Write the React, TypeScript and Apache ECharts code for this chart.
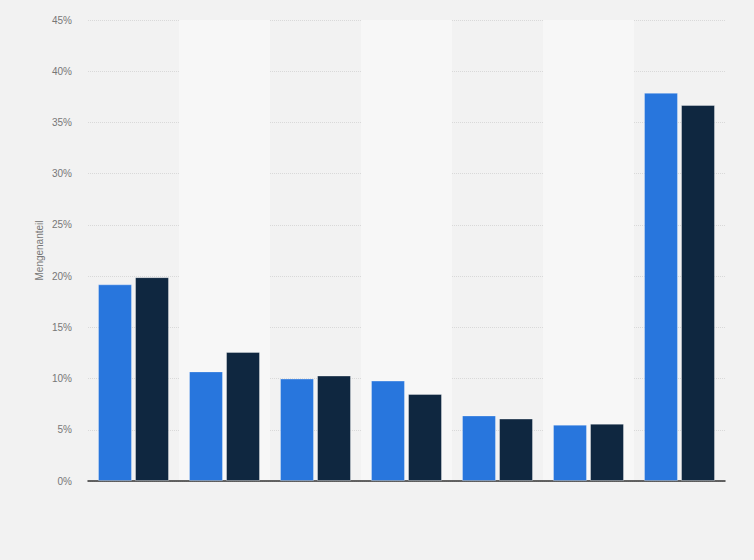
import React, { useEffect, useRef } from "react";
import * as echarts from "echarts";

const categories = ["Kategorie 1", "Kategorie 2", "Kategorie 3", "Kategorie 4", "Kategorie 5", "Kategorie 6", "Kategorie 7"];
const seriesNames = ["Serie 1", "Serie 2"];
const seriesA = [19.2, 10.7, 10.0, 9.8, 6.4, 5.5, 37.9];
const seriesB = [19.9, 12.6, 10.3, 8.5, 6.1, 5.6, 36.7];
const yTicks = { min: 0, max: 45, interval: 5 };

export default function App() {
  const ref = useRef<HTMLDivElement>(null);
  useEffect(() => {
    if (!ref.current) return;
    const chart = echarts.init(ref.current, undefined, { renderer: "svg" });
    const font = "'Liberation Sans', Arial, sans-serif";
    chart.setOption({
      animation: false,
      backgroundColor: "#f2f2f2",
      textStyle: { fontFamily: font },
      grid: { left: 88, right: 29, top: 20, bottom: 79 },
      xAxis: {
        type: "category",
        data: categories,
        axisLine: { show: true, lineStyle: { color: "#333", width: 1.5 } },
        axisTick: { show: false },
        axisLabel: { show: false },
        splitArea: { show: true, areaStyle: { color: ["rgba(0,0,0,0)", "#f7f7f7"] } },
      },
      yAxis: {
        type: "value",
        min: yTicks.min,
        max: yTicks.max,
        interval: yTicks.interval,
        name: "Mengenanteil",
        nameLocation: "middle",
        nameGap: 44,
        nameMoveOverlap: false,
        nameTextStyle: { color: "#777", fontSize: 10, fontFamily: font },
        axisLine: { show: false },
        axisTick: { show: false },
        axisLabel: { formatter: "{value}%", color: "#777", fontSize: 10, margin: 16, fontFamily: font },
        splitLine: { show: true, lineStyle: { color: "#d9d9d9", type: [1, 1], width: 1 } },
      },
      series: [
        {
          name: seriesNames[0],
          type: "bar",
          data: seriesA,
          barGap: "9%",
          barCategoryGap: "22%",
          itemStyle: { color: "#2876dd", borderColor: "rgba(255,255,255,0.3)", borderWidth: 1 },
        },
        {
          name: seriesNames[1],
          type: "bar",
          data: seriesB,
          barGap: "9%",
          barCategoryGap: "22%",
          itemStyle: { color: "#0f2740", borderColor: "rgba(255,255,255,0.35)", borderWidth: 1 },
        },
      ],
    });
    return () => chart.dispose();
  }, []);
  return (
    <div style={{ position: "fixed", left: 0, top: 0, width: 754, height: 560 }}>
      <div ref={ref} style={{ width: 754, height: 560 }} />
    </div>
  );
}
